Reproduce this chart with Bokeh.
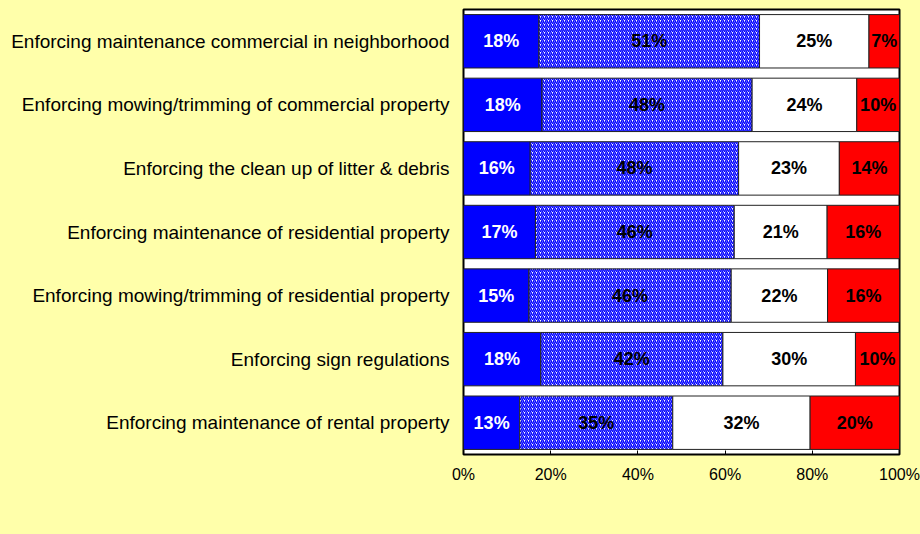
from bokeh.plotting import figure
from bokeh.layouts import column
from bokeh.models import ColumnDataSource, FactorRange, Legend, LegendItem, FixedTicker, CustomJSTickFormatter
from bokeh.core.properties import value
from bokeh.embed import file_html
from bokeh.resources import INLINE

categories = [
    "Enforcing maintenance commercial in neighborhood",
    "Enforcing mowing/trimming of commercial property",
    "Enforcing the clean up of litter & debris",
    "Enforcing maintenance of residential property",
    "Enforcing mowing/trimming of residential property",
    "Enforcing sign regulations",
    "Enforcing maintenance of rental property",
]
very_satisfied = [17.3, 18.0, 15.3, 16.5, 15.0, 17.7, 12.9]
satisfied      = [50.6, 48.2, 47.8, 45.6, 46.4, 41.8, 35.1]
neutral        = [25.1, 24.0, 23.1, 21.3, 22.1, 30.4, 31.5]
dissatisfied   = [7.0, 9.8, 13.8, 16.6, 16.5, 10.1, 20.5]

very_satisfied_lbl = ["18%", "18%", "16%", "17%", "15%", "18%", "13%"]
satisfied_lbl      = ["51%", "48%", "48%", "46%", "46%", "42%", "35%"]
neutral_lbl        = ["25%", "24%", "23%", "21%", "22%", "30%", "32%"]
dissatisfied_lbl   = ["7%", "10%", "14%", "16%", "16%", "10%", "20%"]

series_names = ["Very Satisfied (5)", "Satisfied (4)", "Neutral (3)", "Dissatisfied (1/2)"]
x_ticks = [0, 20, 40, 60, 80, 100]

BG = "#FFFFAA"
FONT = "Liberation Sans"

p = figure(
    frame_width=436, frame_height=445,
    y_range=FactorRange(factors=list(reversed(categories))),
    x_range=(0, 100),
    output_backend="svg", toolbar_location=None,
    min_border_left=463, min_border_right=21, min_border_top=9, min_border_bottom=36,
)
p.background_fill_color = "white"
p.border_fill_color = BG
p.outline_line_color = "black"
p.outline_line_width = 2
p.xgrid.visible = False
p.ygrid.visible = False

# legend-only strip below the chart (its bars lie outside its own x range)
lf = figure(
    width=920, height=64,
    y_range=FactorRange(factors=list(reversed(categories))),
    x_range=(1000, 1001),
    output_backend="svg", toolbar_location=None,
    min_border_left=0, min_border_right=0, min_border_top=0, min_border_bottom=0,
)
lf.xaxis.visible = False
lf.yaxis.visible = False
lf.grid.visible = False
lf.outline_line_color = None
lf.background_fill_color = BG
lf.border_fill_color = BG

series = [very_satisfied, satisfied, neutral, dissatisfied]
labels = [very_satisfied_lbl, satisfied_lbl, neutral_lbl, dissatisfied_lbl]
styles = [
    dict(fill_color="#0000FF"),
    dict(fill_color="white", hatch_pattern="/", hatch_color="#0000FF", hatch_scale=4, hatch_weight=1.5),
    dict(fill_color="white"),
    dict(fill_color="#FF0000"),
]
text_colors = ["white", "black", "black", "black"]

left = [0.0] * len(categories)
items = []
for vals, lbls, st, tc, name in zip(series, labels, styles, text_colors, series_names):
    right = [l + v for l, v in zip(left, vals)]
    mid = [(l + r) / 2 for l, r in zip(left, right)]
    src = ColumnDataSource(dict(cat=categories, left=left, right=right, mid=mid, lbl=lbls))
    p.hbar(y="cat", left="left", right="right", height=0.84, source=src,
           line_color="#222222", line_width=1, **st)
    p.text(x="mid", y="cat", text="lbl", source=src, text_align="center", text_baseline="middle",
           text_font=value(FONT), text_font_size="18px", text_font_style="bold", text_color=tc)
    lr = lf.hbar(y="cat", left="left", right="right", height=0.84, source=src,
                 line_color="#222222", line_width=1, **st)
    items.append(LegendItem(label=name, renderers=[lr]))
    left = right

p.xaxis.ticker = FixedTicker(ticks=x_ticks)
p.xaxis.formatter = CustomJSTickFormatter(code="return tick + '%';")
p.xaxis.axis_line_color = None
p.xaxis.major_tick_in = 4
p.xaxis.major_tick_out = 0
p.xaxis.major_tick_line_color = "black"
p.xaxis.minor_tick_line_color = None
p.xaxis.major_label_text_font = FONT
p.xaxis.major_label_text_font_size = "16px"
p.xaxis.major_label_text_color = "black"
p.xaxis.major_label_standoff = 11

p.yaxis.axis_line_color = None
p.yaxis.major_tick_line_color = None
p.yaxis.minor_tick_line_color = None
p.yaxis.major_label_text_font = FONT
p.yaxis.major_label_text_font_size = "19px"
p.yaxis.major_label_text_color = "black"
p.yaxis.major_label_standoff = 8

legend = Legend(items=items, orientation="horizontal", location="bottom_right",
                label_text_font=FONT, label_text_font_size="16px", label_text_color="black",
                glyph_width=13, glyph_height=13, label_standoff=1, spacing=10, padding=2,
                border_line_color="black", border_line_width=1, background_fill_color="white",
                background_fill_alpha=1.0, margin=21, label_height=16)
lf.add_layout(legend, "below")

layout = column(p, lf, spacing=0)
html = file_html(layout, INLINE)
html = html.replace("</head>", "<style>html, body { background-color: %s; }</style></head>" % BG, 1)
open("out.html", "w").write(html)
